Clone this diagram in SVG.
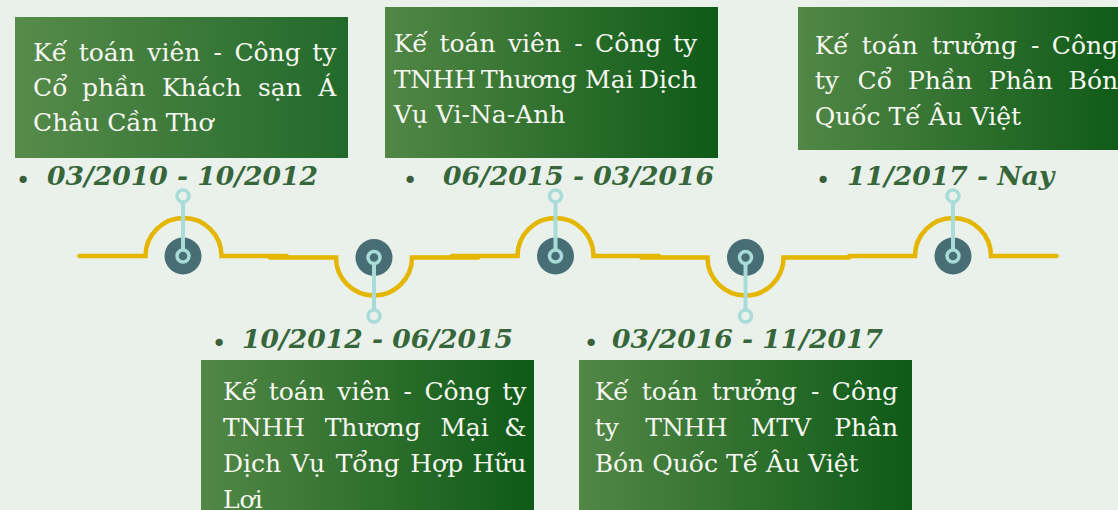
<svg xmlns="http://www.w3.org/2000/svg" width="1118" height="510" viewBox="0 0 1118 510">
<defs>
<linearGradient id="g1" x1="0" y1="0" x2="1" y2="0"><stop offset="0" stop-color="#578b4a"/><stop offset="1" stop-color="#226a2b"/></linearGradient>
<linearGradient id="g2" x1="0" y1="0" x2="1" y2="0"><stop offset="0" stop-color="#528746"/><stop offset="1" stop-color="#0e5a17"/></linearGradient>
<style>
.box1{fill:url(#g1)}
.box{fill:url(#g2)}
.bt{font-family:"DejaVu Serif",serif;font-size:25px;fill:#f6f7f1}
.e{text-anchor:end}
.dt{font-family:"DejaVu Serif",serif;font-size:26.6px;font-weight:bold;font-style:italic;fill:#36663a}
.bul{font-family:"DejaVu Sans",sans-serif;font-size:25px;fill:#3a5f3a;text-anchor:middle}
.tl{fill:none;stroke:#e4b600;stroke-width:4.5;stroke-linecap:round;stroke-linejoin:miter}
.dk{fill:#476e74}
.pin{stroke:#a9dcd9;stroke-width:4}
.ring{fill:#e9f1ea;stroke:#a9dcd9;stroke-width:3.5}
.cring{fill:#476e74;stroke:#a9dcd9;stroke-width:3.5}
</style>
</defs>
<rect width="1118" height="510" fill="#e9f1ea"/>

<g id="connectors">
<path class="tl" d="M79.5 256 H145.5 A38 38 0 0 1 221.5 256 H286.5"/>
<path class="tl" d="M270 257.5 H336 A38 38 0 0 0 412 257.5 H478"/>
<path class="tl" d="M452 256 H517.5 A38 38 0 0 1 593.5 256 H659"/>
<path class="tl" d="M641.5 257.5 H707.5 A38 38 0 0 0 783.5 257.5 H849"/>
<path class="tl" d="M849.5 256 H915 A38 38 0 0 1 991 256 H1056.5"/>
</g>

<g id="node1">
<rect class="box1" x="15" y="17" width="333" height="141"/>
<text class="bt" y="61"><tspan x="33">Kế</tspan><tspan x="78.7">toán</tspan><tspan x="147.3">viên</tspan><tspan x="213.5">-</tspan><tspan x="234.4">Công</tspan></text>
<text class="bt e" x="336.4" y="61">ty</text>
<text class="bt" y="96"><tspan x="33">Cổ</tspan><tspan x="82.1">phần</tspan><tspan x="161.9">Khách</tspan><tspan x="258">sạn</tspan></text>
<text class="bt e" x="336.4" y="96">Á</text>
<text class="bt" x="33" y="131">Châu Cần Thơ</text>
<text class="bul" x="23" y="189">•</text>
<text class="dt" x="47" y="184.5">03/2010 - 10/2012</text>
<circle class="dk" cx="183" cy="256" r="18.5"/>
<line class="pin" x1="183" y1="256" x2="183" y2="202"/>
<circle class="ring" cx="183" cy="196" r="6"/>
<circle class="cring" cx="183" cy="256" r="6"/>
</g>

<g id="node2">
<rect class="box" x="201" y="360" width="333" height="150"/>
<text class="bt" y="400"><tspan x="223">Kế</tspan><tspan x="268.7">toán</tspan><tspan x="337.3">viên</tspan><tspan x="403.5">-</tspan><tspan x="424.4">Công</tspan></text>
<text class="bt e" x="526.4" y="400">ty</text>
<text class="bt" y="436"><tspan x="223">TNHH</tspan><tspan x="324.7">Thương</tspan><tspan x="440.2">Mại</tspan></text>
<text class="bt e" x="526.4" y="436">&amp;</text>
<text class="bt" y="472"><tspan x="223">Dịch</tspan><tspan x="290.9">Vụ</tspan><tspan x="335.7">Tổng</tspan><tspan x="410.3">Hợp</tspan></text>
<text class="bt e" x="526.4" y="472">Hữu</text>
<text class="bt" x="223" y="507.5">Lợi</text>
<text class="bul" x="219" y="352">•</text>
<text class="dt" x="242" y="347.5">10/2012 - 06/2015</text>
<circle class="dk" cx="374" cy="257.5" r="18.5"/>
<line class="pin" x1="374" y1="257.5" x2="374" y2="310"/>
<circle class="ring" cx="374" cy="316" r="6"/>
<circle class="cring" cx="374" cy="257.5" r="6"/>
</g>

<g id="node3">
<rect class="box" x="385" y="7" width="333" height="151"/>
<text class="bt" y="52"><tspan x="393.7">Kế</tspan><tspan x="439.4">toán</tspan><tspan x="508">viên</tspan><tspan x="574.2">-</tspan><tspan x="595.1">Công</tspan></text>
<text class="bt e" x="697.1" y="52">ty</text>
<text class="bt" y="87.5"><tspan x="393.7">TNHH</tspan><tspan x="481">Thương</tspan><tspan x="585.1">Mại</tspan></text>
<text class="bt e" x="697.1" y="87.5">Dịch</text>
<text class="bt" x="393.7" y="123">Vụ Vi-Na-Anh</text>
<text class="bul" x="410" y="189">•</text>
<text class="dt" x="443" y="184.5">06/2015 - 03/2016</text>
<circle class="dk" cx="555.5" cy="256" r="18.5"/>
<line class="pin" x1="555.5" y1="256" x2="555.5" y2="202"/>
<circle class="ring" cx="555.5" cy="196" r="6"/>
<circle class="cring" cx="555.5" cy="256" r="6"/>
</g>

<g id="node4">
<rect class="box" x="579" y="360" width="333" height="150"/>
<text class="bt" y="400"><tspan x="594.7">Kế</tspan><tspan x="641.8">toán</tspan><tspan x="711.8">trưởng</tspan><tspan x="811.1">-</tspan></text>
<text class="bt e" x="898.1" y="400">Công</text>
<text class="bt" y="436"><tspan x="594.7">ty</tspan><tspan x="645.3">TNHH</tspan><tspan x="750.7">MTV</tspan></text>
<text class="bt e" x="898.1" y="436">Phân</text>
<text class="bt" x="594.7" y="472">Bón Quốc Tế Âu Việt</text>
<text class="bul" x="591" y="352">•</text>
<text class="dt" x="612" y="347.5">03/2016 - 11/2017</text>
<circle class="dk" cx="745.5" cy="257.5" r="18.5"/>
<line class="pin" x1="745.5" y1="257.5" x2="745.5" y2="310"/>
<circle class="ring" cx="745.5" cy="316" r="6"/>
<circle class="cring" cx="745.5" cy="257.5" r="6"/>
</g>

<g id="node5">
<rect class="box" x="798" y="7" width="330" height="143"/>
<text class="bt" y="53.5"><tspan x="814.7">Kế</tspan><tspan x="861.8">toán</tspan><tspan x="931.8">trưởng</tspan><tspan x="1031.1">-</tspan></text>
<text class="bt e" x="1118.1" y="53.5">Công</text>
<text class="bt" y="89"><tspan x="814.7">ty</tspan><tspan x="857.5">Cổ</tspan><tspan x="908">Phần</tspan><tspan x="988.9">Phân</tspan></text>
<text class="bt e" x="1118.1" y="89">Bón</text>
<text class="bt" x="814.7" y="124.5">Quốc Tế Âu Việt</text>
<text class="bul" x="823" y="189">•</text>
<text class="dt" x="847" y="184.5">11/2017 - Nay</text>
<circle class="dk" cx="953" cy="256" r="18.5"/>
<line class="pin" x1="953" y1="256" x2="953" y2="202"/>
<circle class="ring" cx="953" cy="196" r="6"/>
<circle class="cring" cx="953" cy="256" r="6"/>
</g>
</svg>
